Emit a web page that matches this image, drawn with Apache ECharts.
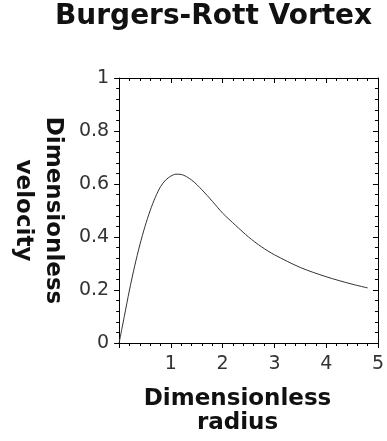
<!DOCTYPE html>
<html>
<head>
<meta charset="utf-8">
<script src="https://cdn.jsdelivr.net/npm/echarts@6/dist/echarts.min.js"></script>
<style>
  html, body { margin: 0; padding: 0; background: #fff; }
  #chart { width: 387px; height: 441px; }
</style>
</head>
<body>
<div id="chart"></div>
<script>
// values
const radius = [0, 0.1, 0.2, 0.3, 0.4, 0.5, 0.6, 0.7, 0.8, 0.9, 1.0, 1.1, 1.2, 1.4, 1.6, 1.8, 2.0, 2.25, 2.5, 2.75, 3.0, 3.5, 4.0, 4.5, 4.8]
const velocity = [0, 0.1, 0.2, 0.29, 0.37, 0.44, 0.5, 0.55, 0.59, 0.615, 0.63, 0.637, 0.636, 0.615, 0.578, 0.535, 0.49, 0.444, 0.4, 0.363, 0.333, 0.285, 0.25, 0.222, 0.208]

const titleText = 'Burgers-Rott Vortex'
const xName = 'Dimensionless\nradius'
const yName = 'Dimensionless\nvelocity'

const tickFont = { color: '#333', fontFamily: 'DejaVu Sans', fontSize: 19 }
const nameFont = { color: '#111', fontFamily: 'DejaVu Sans', fontWeight: 'bold', fontSize: 23, lineHeight: 24 }
const lineStyle = { color: '#000', width: 1 }

function frameAxis(extra) {
  return Object.assign({
    type: 'value',
    axisLine: { show: true, onZero: false, lineStyle },
    axisTick: { show: true, length: 5, lineStyle },
    minorTick: { show: true, splitNumber: 5, length: 3, lineStyle },
    splitLine: { show: false },
    minorSplitLine: { show: false }
  }, extra)
}

const chart = echarts.init(document.getElementById('chart'))
chart.setOption({
  backgroundColor: '#fff',
  animation: false,
  title: {
    text: titleText,
    left: 50,
    top: -2,
    textStyle: { color: '#111', fontFamily: 'DejaVu Sans', fontWeight: 'bold', fontSize: 28 }
  },
  grid: { left: 119, right: 5, top: 78, bottom: 98 },
  xAxis: [
    frameAxis({
      position: 'bottom', min: 0, max: 5, interval: 1,
      name: xName, nameLocation: 'middle', nameGap: 44,
      nameTextStyle: Object.assign({ padding: [0, 22, 0, 0] }, nameFont),
      axisLabel: Object.assign({ margin: 12, showMinLabel: false }, tickFont)
    }),
    frameAxis({
      position: 'top', min: 0, max: 5, interval: 1,
      axisTick: { show: true, inside: true, length: 5, lineStyle },
      axisLabel: { show: false }
    })
  ],
  yAxis: [
    frameAxis({
      position: 'left', min: 0, max: 1, interval: 0.2,
      name: yName, nameLocation: 'middle', nameGap: 46, nameRotate: -90,
      nameTextStyle: Object.assign({}, nameFont, { lineHeight: 30 }),
      axisLabel: Object.assign({ margin: 10 }, tickFont)
    }),
    frameAxis({
      position: 'right', min: 0, max: 1, interval: 0.2,
      axisTick: { show: true, inside: true, length: 5, lineStyle },
      axisLabel: { show: false }
    })
  ],
  series: [{
    type: 'line',
    xAxisIndex: 0,
    yAxisIndex: 0,
    smooth: 0.3,
    showSymbol: false,
    lineStyle: { color: '#333', width: 1 },
    data: radius.map((r, i) => [r, velocity[i]])
  }]
})
</script>
</body>
</html>
